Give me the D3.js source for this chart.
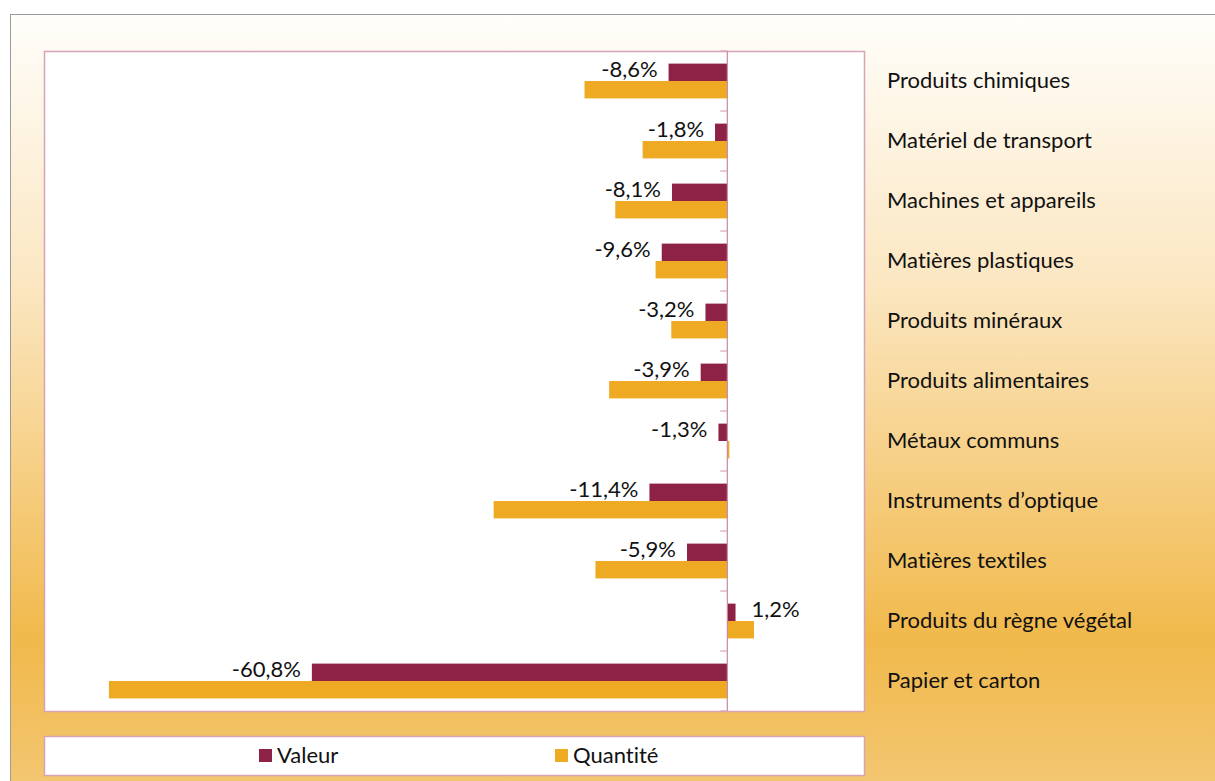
<!DOCTYPE html>
<html>
<head>
<meta charset="utf-8">
<script src="https://cdn.jsdelivr.net/npm/d3@7"></script>
<style>
  body { margin: 0; background: #fff; }
  svg { display: block; }
  text { font-family: Lato, "Open Sans", sans-serif; fill: #111; font-variant-ligatures: none; }
</style>
</head>
<body>
<div id="chart"></div>
<script>
const categories = [
  "Produits chimiques", "Matériel de transport", "Machines et appareils",
  "Matières plastiques", "Produits minéraux", "Produits alimentaires",
  "Métaux communs", "Instruments d’optique", "Matières textiles",
  "Produits du règne végétal", "Papier et carton"
];
const valeur = [-8.6, -1.8, -8.1, -9.6, -3.2, -3.9, -1.3, -11.4, -5.9, 1.2, -60.8];
const quantite = [-20.9, -12.4, -16.4, -10.5, -8.2, -17.3, 0.3, -34.2, -19.3, 3.9, -90.5];
const seriesNames = ["Valeur", "Quantité"];
const colors = ["#8e2246", "#efaa23"];

const W = 1215, H = 781;
const plot = { left: 44, right: 864, top: 51, bottom: 711 };

const svg = d3.select("#chart").append("svg")
  .attr("width", W).attr("height", H);

// background gradient
const defs = svg.append("defs");
const grad = defs.append("linearGradient")
  .attr("id", "bg").attr("x1", 0).attr("y1", 0).attr("x2", 0).attr("y2", 1);
grad.append("stop").attr("offset", "0%").attr("stop-color", "#fffefb");
grad.append("stop").attr("offset", "35%").attr("stop-color", "#fbe6c0");
grad.append("stop").attr("offset", "80%").attr("stop-color", "#f1b94b");
grad.append("stop").attr("offset", "100%").attr("stop-color", "#f3c774");

svg.append("rect")
  .attr("x", 10.5).attr("y", 14.5)
  .attr("width", W).attr("height", H)
  .attr("fill", "url(#bg)")
  .attr("stroke", "#9a9a9a");

// plot area
svg.append("rect")
  .attr("x", plot.left + 0.5).attr("y", plot.top + 0.5)
  .attr("width", plot.right - plot.left).attr("height", plot.bottom - plot.top)
  .attr("fill", "#fff")
  .attr("stroke", "#d7a3b7").attr("stroke-width", 1.5);

const x = d3.scaleLinear().domain([-100, 20]).range([plot.left, plot.right]);
const y = d3.scaleBand().domain(categories).range([plot.top, plot.bottom]).paddingInner(0.42).paddingOuter(0.21);
const sub = d3.scaleBand().domain(seriesNames).range([0, y.bandwidth()]);

const rows = categories.map((c, i) => ({ cat: c, vals: [valeur[i], quantite[i]] }));

const groups = svg.append("g").selectAll("g")
  .data(rows)
  .join("g")
  .attr("transform", d => `translate(0,${y(d.cat)})`);

groups.selectAll("rect")
  .data(d => d.vals.map((v, j) => ({ v, s: seriesNames[j], j })))
  .join("rect")
  .attr("x", d => x(Math.min(0, d.v)))
  .attr("y", d => sub(d.s))
  .attr("width", d => Math.max(2, Math.abs(x(d.v) - x(0))))
  .attr("height", sub.bandwidth())
  .attr("fill", d => colors[d.j]);

// zero axis with ticks between categories
const axisX = x(0);
svg.append("line")
  .attr("x1", axisX).attr("x2", axisX)
  .attr("y1", plot.top).attr("y2", plot.bottom)
  .attr("stroke", "#c78aa2").attr("stroke-width", 1.2);
const step = (plot.bottom - plot.top) / categories.length;
svg.append("g").selectAll("line")
  .data(d3.range(categories.length + 1))
  .join("line")
  .attr("x1", axisX - 7).attr("x2", axisX)
  .attr("y1", i => plot.top + i * step).attr("y2", i => plot.top + i * step)
  .attr("stroke", "#d7a3b7").attr("stroke-width", 1.2);

// data labels for Valeur
const fmt = v => d3.format(".1f")(v).replace(".", ",").replace("−", "-") + "%";
groups.append("text")
  .attr("x", d => d.vals[0] < 0 ? x(d.vals[0]) - 11 : x(d.vals[0]) + 16)
  .attr("y", sub("Valeur") + sub.bandwidth() / 2 - 3)
  .attr("dy", "0.35em")
  .attr("text-anchor", d => d.vals[0] < 0 ? "end" : "start")
  .style("font-size", "22px")
  .text(d => fmt(d.vals[0]));

// category labels on the right
svg.append("g").selectAll("text")
  .data(categories)
  .join("text")
  .attr("x", 887)
  .attr("y", d => y(d) + y.bandwidth() / 2 - 1)
  .attr("dy", "0.35em")
  .style("font-size", "22px")
  .text(d => d);

// legend
svg.append("rect")
  .attr("x", plot.left + 0.5).attr("y", 736.5)
  .attr("width", plot.right - plot.left).attr("height", 39)
  .attr("fill", "#fff")
  .attr("stroke", "#d7a3b7").attr("stroke-width", 1.5);
const legendX = [259, 555];
const leg = svg.append("g").selectAll("g")
  .data(seriesNames)
  .join("g")
  .attr("transform", (d, i) => `translate(${legendX[i]},749)`);
leg.append("rect").attr("width", 13).attr("height", 13).attr("fill", (d, i) => colors[i]);
leg.append("text").attr("x", 18).attr("y", 6).attr("dy", "0.35em")
  .style("font-size", "22px").text(d => d);
</script>
</body>
</html>
